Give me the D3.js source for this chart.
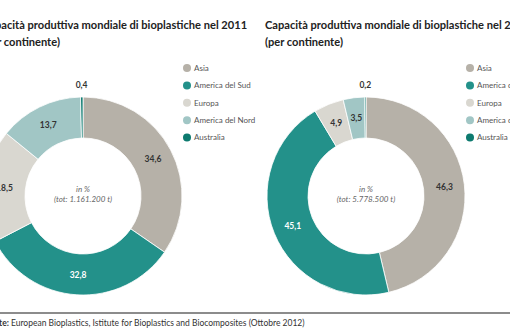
<!DOCTYPE html>
<html>
<head>
<meta charset="utf-8">
<script src="https://cdn.jsdelivr.net/npm/d3@7"></script>
<style>
  body { margin: 0; background: #fff; }
  svg { display: block; font-family: Lato, "Open Sans", sans-serif; }
</style>
</head>
<body>
<div id="chart"></div>
<script>
// ---------------------------------------------------------
// DATA
// ---------------------------------------------------------
var continents = ["Asia", "America del Sud", "Europa", "America del Nord", "Australia"];
var values2011 = [34.6, 32.8, 18.5, 13.7, 0.4];
var values2016 = [46.3, 45.1, 4.9, 3.5, 0.2];
var titles = ["Capacità produttiva mondiale di bioplastiche nel 2011",
              "Capacità produttiva mondiale di bioplastiche nel 2016"];
var totals = ["(tot: 1.161.200 t)", "(tot: 5.778.500 t)"];
var colors = ["#b6b1a8", "#23918a", "#d9d7d0", "#a1c6c5", "#0d7a6f"];

// ---------------------------------------------------------
// SET UP
// ---------------------------------------------------------
var svgWidth = 510;
var svgHeight = 330;

var svg = d3.select("#chart")
  .append("svg")
  .attr("width", svgWidth)
  .attr("height", svgHeight);

var color = d3.scaleOrdinal().domain(continents).range(colors);
var it = d3.formatLocale({ decimal: ",", thousands: ".", grouping: [3], currency: ["", ""] });
var fmt = it.format(".1f");

var outerR = 99, innerR = 58;

var pie = d3.pie().sort(null).value(d => d.value);
var arc = d3.arc().innerRadius(innerR).outerRadius(outerR);
var labelArc = d3.arc().innerRadius(79).outerRadius(79);
var outsideArc = d3.arc().innerRadius(111).outerRadius(111);

// one panel per year
var panels = [
  { cx: 83, values: values2011, title: titles[0], total: totals[0] },
  { cx: 366, values: values2016, title: titles[1], total: totals[1] }
];

panels.forEach(function(p) {
  var g = svg.append("g").attr("transform", `translate(${p.cx}, 196)`);

  var data = continents.map((c, i) => ({ name: c, value: p.values[i] }));
  var arcs = pie(data);

  g.selectAll("path")
    .data(arcs)
    .enter()
    .append("path")
    .attr("d", arc)
    .attr("fill", d => color(d.data.name))
    .attr("stroke", "#fff")
    .attr("stroke-width", 0.8);

  // value labels, tiny slices go outside the ring
  g.selectAll("text.val")
    .data(arcs)
    .enter()
    .append("text")
    .attr("class", "val")
    .attr("transform", function(d) {
      var c = d.data.value < 1 ? outsideArc.centroid(d) : labelArc.centroid(d);
      return `translate(${c[0]}, ${c[1]})`;
    })
    .attr("text-anchor", "middle")
    .attr("dy", "0.35em")
    .attr("font-size", "8.5px")
    .attr("font-weight", "bold")
    .attr("fill", d => d.data.name === "America del Sud" ? "#fff" : "#333")
    .text(d => fmt(d.data.value));

  // centre text
  g.append("text")
    .attr("y", -4)
    .attr("text-anchor", "middle")
    .attr("font-size", "8px")
    .attr("font-style", "italic")
    .attr("fill", "#666")
    .text("in %");
  g.append("text")
    .attr("y", 6)
    .attr("text-anchor", "middle")
    .attr("font-size", "8px")
    .attr("font-style", "italic")
    .attr("fill", "#666")
    .text(p.total);

  // title
  var tx = p.cx - 101;
  svg.append("text")
    .attr("x", tx)
    .attr("y", 29)
    .attr("font-size", "11.1px")
    .attr("font-weight", "bold")
    .attr("fill", "#222")
    .text(p.title);
  svg.append("text")
    .attr("x", tx)
    .attr("y", 46)
    .attr("font-size", "11.1px")
    .attr("font-weight", "bold")
    .attr("fill", "#222")
    .text("(per continente)");

  // legend
  var legend = svg.append("g")
    .attr("transform", `translate(${p.cx + 104}, 68)`);
  var rows = legend.selectAll("g")
    .data(continents)
    .enter()
    .append("g")
    .attr("transform", (d, i) => `translate(0, ${i * 17.4})`);
  rows.append("circle")
    .attr("r", 4)
    .attr("fill", d => color(d));
  rows.append("text")
    .attr("x", 7)
    .attr("dy", "0.35em")
    .attr("font-size", "8px")
    .attr("fill", "#555")
    .text(d => d);
});

// source line
svg.append("line")
  .attr("x1", 0).attr("x2", svgWidth)
  .attr("y1", 313).attr("y2", 313)
  .attr("stroke", "#666")
  .attr("stroke-width", 1.5);

var src = svg.append("text")
  .attr("x", -15)
  .attr("y", 326)
  .attr("font-size", "8.5px")
  .attr("fill", "#333");
src.append("tspan").attr("font-weight", "bold").text("Fonte: ");
src.append("tspan").text("European Bioplastics, Istitute for Bioplastics and Biocomposites (Ottobre 2012)");
</script>
</body>
</html>
